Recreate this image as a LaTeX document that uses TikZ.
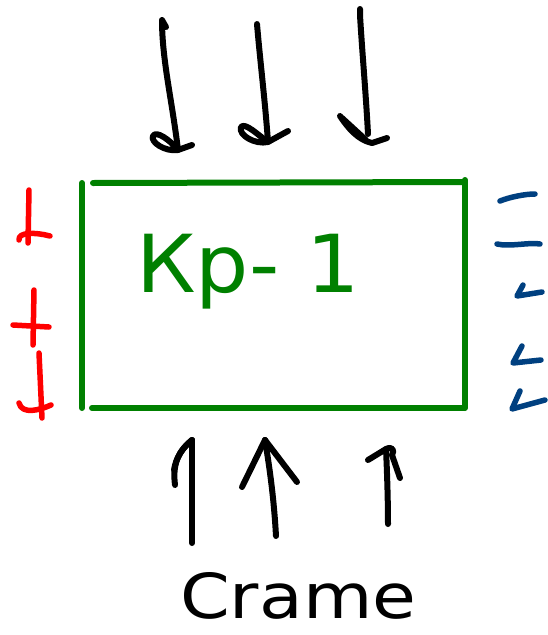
\documentclass[tikz,border=0pt]{standalone}
\usepackage{fontspec}
\setmainfont{DejaVu Sans}
\definecolor{boxgreen}{RGB}{0,128,0}
\definecolor{markblue}{RGB}{0,64,128}
\definecolor{markred}{RGB}{255,0,0}
\tikzset{
  pen/.style={line width=6pt, line cap=round, line join=round},
  inkblack/.style={pen, black},
  inkgreen/.style={pen, boxgreen},
  inkred/.style={pen, markred, line width=5.5pt},
  inkblue/.style={pen, markblue, line width=5.5pt},
}
\begin{document}
\begin{tikzpicture}[x=1pt, y=-1pt]
\useasboundingbox (0,0) rectangle (548,635);

% box outline, drawn as four separate strokes
\draw[inkgreen] (82,183) -- (82,408);
\draw[inkgreen] (93,183) -- (464,182);
\draw[inkgreen] (465,180) -- (465,408);
\draw[inkgreen] (92,408) -- (464,408);

% label inside the box
\node[text=boxgreen, font=\fontsize{80}{80}\selectfont, anchor=west, xscale=1.05, inner sep=0pt] (lbl) at (136,272) {Кр- 1};

% incoming arrows from above
\draw[inkblack] (166,27) -- (162,20) .. controls (162,60) and (172,100) .. (178,150);
\draw[inkblack] (178,150) .. controls (165,152) and (150,142) .. (153,136) .. controls (156,130) and (170,140) .. (178,150) -- (192,145);
\draw[inkblack] (257,24) .. controls (260,60) and (265,100) .. (268,142);
\draw[inkblack] (268,142) .. controls (255,145) and (238,135) .. (241,127) .. controls (245,122) and (258,135) .. (268,142) -- (288,131);
\draw[inkblack] (360,9) -- (360,15) .. controls (362,50) and (366,95) .. (368,134);
\draw[inkblack] (340,116) .. controls (348,128) and (358,140) .. (372,143) -- (387,138);
\draw[inkblack] (342,118) -- (366,140);

% outgoing arrows below
\coordinate (u1t) at (192,440);
\draw[inkblack] (192,543) -- (u1t);
\draw[inkblack] (u1t) .. controls (180,450) and (172,462) .. (175,485);
\draw[inkblack] (u1t) .. controls (182,448) and (176,458) .. (174,470);
\coordinate (u2t) at (265,440);
\draw[inkblack] (276,536) .. controls (274,500) and (270,470) .. (u2t);
\draw[inkblack] (u2t) -- (242,487);
\draw[inkblack] (u2t) -- (297,482);
\coordinate (u3t) at (386,449);
\draw[inkblack] (388,524) .. controls (388,500) and (387,470) .. (u3t);
\draw[inkblack] (368,460) -- (u3t) .. controls (392,446) and (395,450) .. (392,455) -- (400,478);

% caption under the arrows
\node[font=\fontsize{62}{62}\selectfont, anchor=west, xscale=1.15, inner sep=0pt] (cap) at (180,596) {Crame};

% red tick marks on the left edge
\draw[inkred] (29,190) -- (28,243);
\draw[inkred] (19,240) .. controls (18,232) and (35,232) .. (50,236);
\draw[inkred] (34,290) -- (33,345);
\draw[inkred] (13,325) -- (49,327);
\draw[inkred] (39,353) -- (42,418);
\draw[inkred] (19,403) .. controls (22,415) and (40,410) .. (51,405);

% blue tick marks on the right edge
\draw[inkblue] (500,201) .. controls (510,197) and (525,194) .. (535,194);
\draw[inkblue] (497,244) .. controls (510,247) and (530,242) .. (540,244);
\draw[inkblue] (523,285) -- (517,296) -- (542,292);
\draw[inkblue] (522,346) -- (513,363) -- (541,360);
\draw[inkblue] (520,391) -- (512,409) -- (545,400);
\end{tikzpicture}
\end{document}
